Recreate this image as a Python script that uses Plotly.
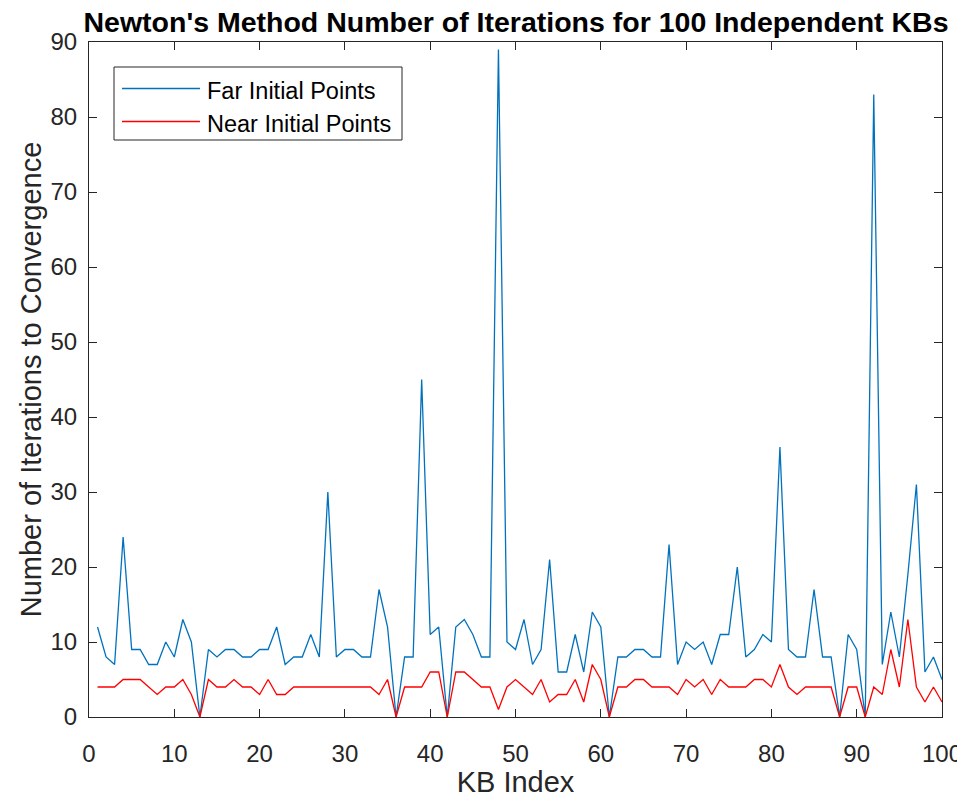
import plotly.graph_objects as go

kb_index = list(range(1, 101))
far_iters = [12, 8, 7, 24, 9, 9, 7, 7, 10, 8,
             13, 10, 0, 9, 8, 9, 9, 8, 8, 9,
             9, 12, 7, 8, 8, 11, 8, 30, 8, 9,
             9, 8, 8, 17, 12, 0, 8, 8, 45, 11,
             12, 0, 12, 13, 11, 8, 8, 89, 10, 9,
             13, 7, 9, 21, 6, 6, 11, 6, 14, 12,
             0, 8, 8, 9, 9, 8, 8, 23, 7, 10,
             9, 10, 7, 11, 11, 20, 8, 9, 11, 10,
             36, 9, 8, 8, 17, 8, 8, 0, 11, 9,
             0, 83, 7, 14, 8, 19, 31, 6, 8, 5]
near_iters = [4, 4, 4, 5, 5, 5, 4, 3, 4, 4,
              5, 3, 0, 5, 4, 4, 5, 4, 4, 3,
              5, 3, 3, 4, 4, 4, 4, 4, 4, 4,
              4, 4, 4, 3, 5, 0, 4, 4, 4, 6,
              6, 0, 6, 6, 5, 4, 4, 1, 4, 5,
              4, 3, 5, 2, 3, 3, 5, 2, 7, 5,
              0, 4, 4, 5, 5, 4, 4, 4, 3, 5,
              4, 5, 3, 5, 4, 4, 4, 5, 5, 4,
              7, 4, 3, 4, 4, 4, 4, 0, 4, 4,
              0, 4, 3, 9, 4, 13, 4, 2, 4, 2]

series_names = ["Far Initial Points", "Near Initial Points"]
series_colors = ["#0072BD", "#FF0000"]

x_ticks = list(range(0, 101, 10))
y_ticks = list(range(0, 91, 10))

FONT = "Liberation Sans, Arial, Helvetica, sans-serif"
AX = "#262626"

W, H = 957, 790   # page body adds an 8px margin
ML, MR, MT, MB = 81, 23, 34, 81

fig = go.Figure()
for name, vals, col in zip(series_names, [far_iters, near_iters], series_colors):
    fig.add_trace(go.Scatter(x=kb_index, y=vals, mode="lines", name=name,
                             line=dict(color=col, width=1.3), showlegend=False))

axis_common = dict(showline=True, linecolor=AX, linewidth=1, mirror="ticks",
                   ticks="inside", ticklen=8, tickcolor=AX, tickwidth=1,
                   showgrid=False, zeroline=False, automargin=False,
                   tickfont=dict(family=FONT, size=24, color=AX))

fig.update_layout(
    width=W, height=H,
    paper_bgcolor="white", plot_bgcolor="white",
    margin=dict(l=ML, r=MR, t=MT, b=MB),
    title=dict(text="<b>Newton's Method Number of Iterations for 100 Independent KBs</b>",
               xref="container", x=508 / W, xanchor="center",
               yref="container", y=1 - 14 / H, yanchor="middle",
               font=dict(family=FONT, size=28.5, color="black")),
    xaxis=dict(range=[0, 100], tickvals=x_ticks, ticklabelstandoff=15,
               title=dict(text="KB Index", font=dict(family=FONT, size=29, color=AX), standoff=3),
               **axis_common),
    yaxis=dict(range=[0, 90], tickvals=y_ticks, ticklabelstandoff=6,
               title=dict(text="Number of Iterations to Convergence",
                          font=dict(family=FONT, size=29, color=AX), standoff=0),
               **axis_common),
    showlegend=False,
)

# Custom MATLAB-style legend box (long line samples); positions in plot-area fractions
def px_x(px):
    return (px - 89) / 853

def px_y(py):
    return (717 - py) / 675

fig.add_shape(type="rect", xref="paper", yref="paper",
              x0=px_x(114), x1=px_x(402), y0=px_y(140), y1=px_y(67),
              line=dict(color=AX, width=1), fillcolor="white", layer="above")
for i, (name, col) in enumerate(zip(series_names, series_colors)):
    ly = 88.5 + i * 33
    fig.add_shape(type="line", xref="paper", yref="paper",
                  x0=px_x(122), x1=px_x(200), y0=px_y(ly), y1=px_y(ly),
                  line=dict(color=col, width=1.3), layer="above")
    fig.add_annotation(xref="paper", yref="paper", x=px_x(205), y=px_y(ly + 2.5),
                       xanchor="left", yanchor="middle", showarrow=False,
                       text=name, font=dict(family=FONT, size=23.5, color="black"))

fig.write_html("out.html")
